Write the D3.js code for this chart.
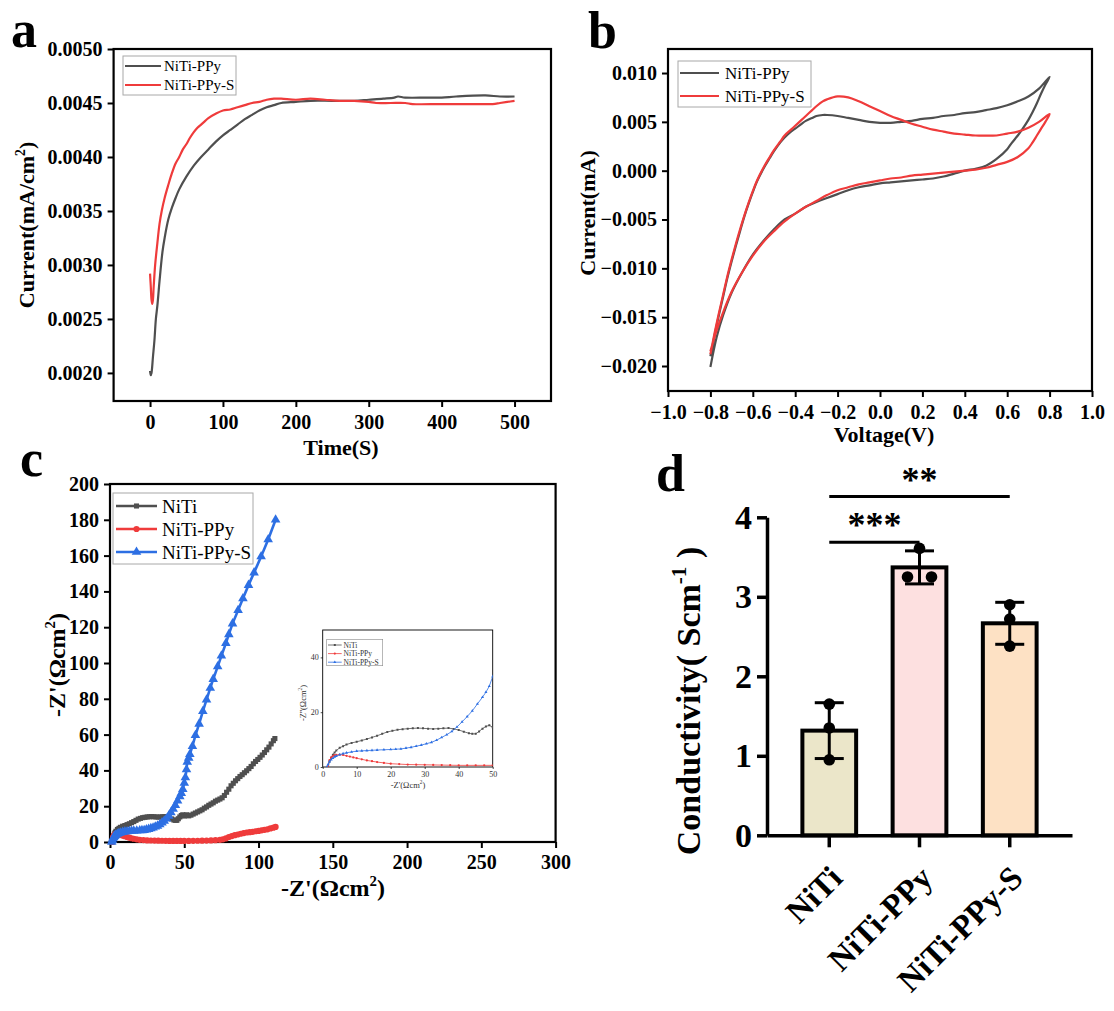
<!DOCTYPE html>
<html><head><meta charset="utf-8">
<script src="https://cdn.jsdelivr.net/npm/d3@7"></script>
<style>
body{margin:0;background:#fff;}
svg{display:block;}
</style></head><body>
<svg id="fig" width="1114" height="1011"></svg>
<script>
// ---------------- DATA ----------------
// Panel a: chronoamperometry
const timePPy = [0,1,2,4,6,8,10,13,17,20,25,30,35,40,50,60,70,80,90,100,110,120,130,140,150,160,170,180,200,220,250,280,300,320,335,340,350,380,400,420,460,480,500];
const curPPy  = [0.00202,0.00198,0.00200,0.00215,0.00230,0.00250,0.00262,0.00285,0.00312,0.00325,0.00342,0.00353,0.00362,0.00370,0.00382,0.00392,0.00400,0.00407,0.00414,0.00420,0.00425,0.00430,0.00435,0.00439,0.00443,0.00446,0.00448,0.00450,0.00451,0.00452,0.00452,0.00452,0.00453,0.00454,0.00455,0.00456,0.00455,0.00455,0.00455,0.00456,0.00457,0.00456,0.00456];
const timePPyS = [0,1,2,3,4,5,7,10,13,16,20,25,30,35,40,45,50,55,60,65,70,75,80,90,100,110,120,130,140,150,160,170,180,200,220,240,260,280,300,310,330,350,360,400,440,470,480,490,500];
const curPPyS  = [0.00292,0.00280,0.00268,0.00264,0.00268,0.00280,0.00300,0.00320,0.00338,0.00350,0.00362,0.00374,0.00385,0.00394,0.00400,0.00407,0.00412,0.00418,0.00423,0.00427,0.00430,0.00433,0.00436,0.00440,0.00443,0.00444,0.00446,0.00448,0.00450,0.00451,0.00453,0.00454,0.00454,0.00453,0.00454,0.00453,0.00452,0.00452,0.00451,0.00450,0.00450,0.00450,0.00449,0.00449,0.00449,0.00449,0.00450,0.00451,0.00452];
const seriesA = ["NiTi-PPy","NiTi-PPy-S"];
const xTicksA = [0,100,200,300,400,500];
const yTicksA = [0.0020,0.0025,0.0030,0.0035,0.0040,0.0045,0.0050];

// Panel b: cyclic voltammetry loops [V, mA]
const cvPPy = [[-0.8,-0.0190],[-0.78,-0.0168],[-0.76,-0.0148],[-0.74,-0.0129],[-0.72,-0.0110],[-0.70,-0.0093],[-0.68,-0.0077],[-0.66,-0.0062],[-0.64,-0.0047],[-0.62,-0.0034],[-0.60,-0.0022],[-0.58,-0.0011],[-0.55,0.0002],[-0.52,0.0013],[-0.50,0.0020],[-0.47,0.0029],[-0.45,0.0034],[-0.42,0.0040],[-0.40,0.0043],[-0.37,0.0048],[-0.35,0.0051],[-0.32,0.0054],[-0.30,0.0056],[-0.27,0.0057],[-0.25,0.0057],[-0.20,0.0056],[-0.15,0.0054],[-0.10,0.0052],[-0.05,0.0050],[0.0,0.0049],[0.05,0.0049],[0.10,0.0050],[0.15,0.0051],[0.20,0.0053],[0.25,0.0054],[0.30,0.0056],[0.35,0.0057],[0.40,0.0059],[0.45,0.0060],[0.50,0.0062],[0.55,0.0064],[0.60,0.0067],[0.65,0.0071],[0.70,0.0076],[0.75,0.0084],[0.80,0.0096],
  [0.78,0.0088],[0.76,0.0079],[0.74,0.0069],[0.72,0.0060],[0.70,0.0052],[0.67,0.0042],[0.65,0.0036],[0.62,0.0028],[0.60,0.0022],[0.55,0.0012],[0.50,0.0005],[0.45,0.0002],[0.40,0.0000],[0.35,-0.0003],[0.30,-0.0006],[0.25,-0.0008],[0.20,-0.0009],[0.15,-0.0010],[0.10,-0.0011],[0.05,-0.0012],[0.0,-0.0013],[-0.05,-0.0015],[-0.10,-0.0017],[-0.15,-0.0020],[-0.20,-0.0024],[-0.25,-0.0028],[-0.30,-0.0032],[-0.35,-0.0037],[-0.40,-0.0044],[-0.45,-0.0050],[-0.50,-0.0060],[-0.55,-0.0072],[-0.60,-0.0086],[-0.65,-0.0104],[-0.70,-0.0125],[-0.74,-0.0148],[-0.77,-0.0170],[-0.80,-0.0201]];
const cvPPyS = [[-0.8,-0.0188],[-0.78,-0.0166],[-0.76,-0.0146],[-0.74,-0.0127],[-0.72,-0.0108],[-0.70,-0.0091],[-0.68,-0.0075],[-0.66,-0.0060],[-0.64,-0.0046],[-0.62,-0.0033],[-0.60,-0.0021],[-0.58,-0.0010],[-0.55,0.0003],[-0.52,0.0014],[-0.50,0.0021],[-0.47,0.0030],[-0.45,0.0036],[-0.42,0.0042],[-0.40,0.0046],[-0.37,0.0052],[-0.35,0.0056],[-0.32,0.0062],[-0.30,0.0066],[-0.27,0.0071],[-0.25,0.0073],[-0.20,0.0076],[-0.15,0.0075],[-0.10,0.0071],[-0.05,0.0066],[0.0,0.0061],[0.05,0.0056],[0.10,0.0052],[0.15,0.0048],[0.20,0.0045],[0.25,0.0042],[0.30,0.0040],[0.35,0.0038],[0.40,0.0037],[0.45,0.0036],[0.50,0.0036],[0.55,0.0036],[0.60,0.0038],[0.65,0.0040],[0.70,0.0044],[0.75,0.0050],[0.80,0.0058],
  [0.78,0.0050],[0.76,0.0043],[0.74,0.0036],[0.72,0.0029],[0.70,0.0023],[0.65,0.0014],[0.60,0.0009],[0.55,0.0006],[0.50,0.0003],[0.45,0.0001],[0.40,0.0000],[0.35,-0.0001],[0.30,-0.0002],[0.25,-0.0003],[0.20,-0.0004],[0.15,-0.0005],[0.10,-0.0007],[0.05,-0.0008],[0.0,-0.0010],[-0.05,-0.0012],[-0.10,-0.0014],[-0.15,-0.0017],[-0.20,-0.0020],[-0.25,-0.0025],[-0.30,-0.0031],[-0.35,-0.0037],[-0.40,-0.0044],[-0.45,-0.0052],[-0.50,-0.0062],[-0.55,-0.0073],[-0.60,-0.0087],[-0.65,-0.0104],[-0.70,-0.0124],[-0.74,-0.0145],[-0.77,-0.0163],[-0.80,-0.0185]];
const seriesB = ["NiTi-PPy","NiTi-PPy-S"];
const xTicksB = [-1.0,-0.8,-0.6,-0.4,-0.2,0.0,0.2,0.4,0.6,0.8,1.0];
const yTicksB = [-0.020,-0.015,-0.010,-0.005,0.000,0.005,0.010];

// Panel c: Nyquist [Z', -Z'']
const eisNiTi = [[1.5,0],[2,2],[2.5,3.4],[3,4.5],[3.5,5.3],[4,6],[5,7],[6,7.6],[7,8.2],[8.5,8.8],[10,9.2],[11.5,9.7],[13,10.2],[14.5,10.8],[16,11.4],[17.5,12.1],[19,12.8],[20.5,13.2],[22,13.6],[23.5,13.8],[25,14],[26.5,14.1],[28,14.2],[29.5,14.1],[31,14],[32.5,13.9],[34,14],[35.5,14.1],[37,14.2],[38.5,13.9],[40,13.5],[41.5,12.9],[43,12.3],[44,12.1],[45,12.1],[46,13],[47,14],[48,14.8],[49,15.2],[50,14.5],[51.5,15.2],[53,14.6],[54.5,15],[56,15.6],[57.5,16.2],[59,16.8],[60.5,17.4],[62,18],[63.5,18.9],[65,19.6],[66.5,20.5],[68,21.2],[69.5,21.9],[71,22.8],[72.5,23.4],[74,24],[75.5,24.7],[77,26],[78.5,27.8],[80,29.5],[81.5,31.4],[83,32.8],[84.5,34.2],[86,35.4],[87.5,36.6],[89,37.6],[90.5,38.7],[92,39.8],[93.5,41],[95,42.2],[96.5,43.7],[98,45],[99.5,46.1],[101,47.3],[102.5,48.6],[104,50],[105.5,51.5],[107,53],[108.5,54.8],[110,56.6],[111,57.8]];
const eisPPy = [[1.5,0],[2,2.5],[2.5,3.5],[3,4],[3.5,4.3],[4,4.4],[5,4.5],[6,4.4],[7,4.1],[8,3.8],[9,3.5],[10,3.2],[11.5,2.8],[13,2.4],[14.5,2.1],[16,1.8],[18,1.5],[20,1.2],[22.5,1.05],[25,0.9],[27.5,0.85],[30,0.8],[32.5,0.75],[35,0.7],[37.5,0.65],[40,0.6],[42.5,0.6],[45,0.6],[47.5,0.6],[50,0.6],[53,0.6],[56,0.65],[59,0.7],[62,0.75],[65,0.8],[68,0.9],[71,1],[74,1.2],[76,1.5],[78,2],[80,2.8],[82,3.3],[84,3.8],[86,4.2],[88,4.6],[90,5],[92,5.3],[94,5.5],[96,5.7],[98,6],[100,6.2],[102,6.5],[104,6.8],[106,7.1],[108,7.6],[110,8],[111.5,8.4]];
const eisPPyS = [[1.2,0],[1.6,1],[2,2],[2.5,2.7],[3,3.2],[3.5,3.7],[4,4],[5,4.5],[6,4.9],[7,5.2],[8.5,5.5],[10,5.8],[11.5,5.9],[13,6],[14.5,6.1],[16,6.2],[18,6.3],[20,6.4],[21.5,6.5],[23,6.6],[24.5,6.9],[26,7.2],[27.5,7.6],[29,8],[30.5,8.5],[32,9],[33.5,9.8],[35,10.8],[36.5,11.8],[38,13],[39.5,14.6],[41,16.5],[42.5,18.4],[44,20.5],[45.5,23],[47,25.5],[48,27.3],[49,29.5],[50,33],[50.75,36],[51.5,40.5],[52,44.7],[53,47],[53.75,49],[55.5,53.5],[57.5,59.6],[60,66],[62.5,73],[65,79.5],[67.5,86],[69.5,91],[72.5,98],[75,104],[78,111],[80,116],[82.5,122],[86.25,129.5],[89.5,136],[93.25,143.5],[97,150.5],[101.75,159.5],[106.5,169],[111.5,180]];
const seriesC = ["NiTi","NiTi-PPy","NiTi-PPy-S"];
const xTicksC = [0,50,100,150,200,250,300];
const yTicksC = [0,20,40,60,80,100,120,140,160,180,200];
const xTicksInset = [0,10,20,30,40,50];
const yTicksInset = [0,20,40];

// Panel d: conductivity replicates (S/cm)
const groupsD = ["NiTi","NiTi-PPy","NiTi-PPy-S"];
const repNiTi = [1.65,1.35,0.95];
const repPPy  = [3.61,3.25,3.25];
const repPPyS = [2.90,2.72,2.38];
const yTicksD = [0,1,2,3,4];
const sigLabels = ["***","**"];

// ---------------- DRAWING ----------------
const FONT = '"Liberation Serif","Times New Roman",serif';
const svg = d3.select("#fig").attr("font-family", FONT);
const GRAY = "#4f4f4f", RED = "#ef3b3b", BLUE = "#2d6fe3";

function rich(sel, parts, fs) {
  parts.forEach((p, i) => {
    const t = sel.append("tspan").text(p.t);
    if (p.sup) t.attr("font-size", fs * 0.62).attr("dy", -fs * 0.42);
    else if (i > 0 && parts[i-1].sup) t.attr("dy", fs * 0.42);
  });
}

function framed(g, x, y, o) {
  const ya = g.append("g").attr("transform", `translate(${x.range()[0]},0)`)
    .call(d3.axisLeft(y).tickValues(o.yTicks).tickFormat(o.yFmt).tickSize(o.tick).tickSizeOuter(0).tickPadding(o.padY));
  const xa = g.append("g").attr("transform", `translate(0,${y.range()[0]})`)
    .call(d3.axisBottom(x).tickValues(o.xTicks).tickFormat(o.xFmt).tickSize(o.tick).tickSizeOuter(0).tickPadding(o.padX));
  [ya, xa].forEach(a => {
    a.select(".domain").remove();
    a.attr("font-family", FONT).attr("font-size", o.fs);
    a.selectAll("line").attr("stroke", "#000").attr("stroke-width", o.sw);
    a.selectAll("text").attr("font-weight", o.fw).attr("fill", "#000");
  });
  g.append("rect").attr("x", x.range()[0]).attr("y", y.range()[1])
    .attr("width", x.range()[1] - x.range()[0]).attr("height", y.range()[0] - y.range()[1])
    .attr("fill", "none").attr("stroke", "#000").attr("stroke-width", o.frame);
}

function panelLabel(t, x, y) {
  svg.append("text").attr("x", x).attr("y", y).attr("font-size", 52).attr("font-weight", "bold").text(t);
}

// ---- Panel a ----
{
  const g = svg.append("g");
  const x = d3.scaleLinear().domain([-50, 550]).range([113.6, 551]);
  const y = d3.scaleLinear().domain([0.00174, 0.0050]).range([401, 49]);
  framed(g, x, y, {xTicks: xTicksA, yTicks: yTicksA, xFmt: d3.format("d"), yFmt: d3.format(".4f"),
    tick: 6, padX: 8, padY: 5, fs: 20, fw: "bold", sw: 2, frame: 2.2});
  const line = d3.line().x(d => x(d[0])).y(d => y(d[1])).curve(d3.curveCatmullRom);
  const dataA = [d3.zip(timePPy, curPPy), d3.zip(timePPyS, curPPyS)];
  const colA = [GRAY, RED];
  dataA.forEach((d, i) => g.append("path").datum(d).attr("d", line).attr("fill", "none")
    .attr("stroke", colA[i]).attr("stroke-width", 2.2));
  g.append("rect").attr("x", 123).attr("y", 56).attr("width", 113).attr("height", 39)
    .attr("fill", "#fff").attr("stroke", "#a8a8a8").attr("stroke-width", 1);
  seriesA.forEach((s, i) => {
    const yy = 66 + i * 19;
    g.append("line").attr("x1", 125).attr("x2", 161).attr("y1", yy).attr("y2", yy).attr("stroke", colA[i]).attr("stroke-width", 2.2);
    g.append("text").attr("x", 164).attr("y", yy + 5).attr("font-size", 15).text(s);
  });
  g.append("text").attr("x", 341).attr("y", 455).attr("text-anchor", "middle").attr("font-size", 22).attr("font-weight", "bold").text("Time(S)");
  const yt = g.append("text").attr("transform", "translate(34,225) rotate(-90)").attr("text-anchor", "middle")
    .attr("font-size", 22).attr("font-weight", "bold");
  rich(yt, [{t: "Current(mA/cm"}, {t: "2", sup: true}, {t: ")"}], 22);
  panelLabel("a", 11, 47);
}

// ---- Panel b ----
{
  const g = svg.append("g");
  const x = d3.scaleLinear().domain([-1, 1]).range([668, 1092]);
  const y = d3.scaleLinear().domain([-0.02256, 0.01246]).range([391, 49]);
  framed(g, x, y, {xTicks: xTicksB, yTicks: yTicksB, xFmt: d3.format(".1f"), yFmt: d3.format(".3f"),
    tick: 6, padX: 8, padY: 5, fs: 20, fw: "bold", sw: 2, frame: 2.2});
  const line = d3.line().x(d => x(d[0])).y(d => y(d[1])).curve(d3.curveCatmullRom);
  const colB = [GRAY, RED];
  [cvPPy, cvPPyS].forEach((d, i) => g.append("path").datum(d).attr("d", line).attr("fill", "none")
    .attr("stroke", colB[i]).attr("stroke-width", 2.2));
  g.append("rect").attr("x", 678).attr("y", 61).attr("width", 133).attr("height", 46)
    .attr("fill", "#fff").attr("stroke", "#a8a8a8").attr("stroke-width", 1);
  seriesB.forEach((s, i) => {
    const yy = 73 + i * 23;
    g.append("line").attr("x1", 680).attr("x2", 719).attr("y1", yy).attr("y2", yy).attr("stroke", colB[i]).attr("stroke-width", 2.2);
    g.append("text").attr("x", 725).attr("y", yy + 6).attr("font-size", 17).text(s);
  });
  g.append("text").attr("x", 884).attr("y", 442).attr("text-anchor", "middle").attr("font-size", 22).attr("font-weight", "bold").text("Voltage(V)");
  g.append("text").attr("transform", "translate(595,213) rotate(-90)").attr("text-anchor", "middle")
    .attr("font-size", 22).attr("font-weight", "bold").text("Current(mA)");
  panelLabel("b", 588, 48);
}

// ---- Panel c ----
{
  const g = svg.append("g");
  const x = d3.scaleLinear().domain([0, 300]).range([110, 555.6]);
  const y = d3.scaleLinear().domain([0, 200]).range([842, 484]);
  framed(g, x, y, {xTicks: xTicksC, yTicks: yTicksC, xFmt: d3.format("d"), yFmt: d3.format("d"),
    tick: 6, padX: 7, padY: 5, fs: 20, fw: "bold", sw: 2, frame: 2.2});
  const colC = [GRAY, RED, BLUE];
  const symC = [d3.symbolSquare, d3.symbolCircle, d3.symbolTriangle];
  const symSize = [26, 30, 40];
  const dataC = [eisNiTi, eisPPy, eisPPyS];
  const line = d3.line().x(d => x(d[0])).y(d => y(d[1]));
  dataC.forEach((d, i) => {
    g.append("path").datum(d).attr("d", line).attr("fill", "none").attr("stroke", colC[i]).attr("stroke-width", 2.6);
    g.selectAll(null).data(d).join("path")
      .attr("transform", p => `translate(${x(p[0])},${y(p[1])})`)
      .attr("d", d3.symbol(symC[i], symSize[i])).attr("fill", colC[i]);
  });
  // legend
  g.append("rect").attr("x", 113).attr("y", 493).attr("width", 140).attr("height", 71)
    .attr("fill", "#fff").attr("stroke", "#a8a8a8").attr("stroke-width", 1);
  seriesC.forEach((s, i) => {
    const yy = 506 + i * 23;
    g.append("line").attr("x1", 116).attr("x2", 157).attr("y1", yy).attr("y2", yy).attr("stroke", colC[i]).attr("stroke-width", 2.6);
    g.append("path").attr("transform", `translate(136.5,${yy})`).attr("d", d3.symbol(symC[i], symSize[i])).attr("fill", colC[i]);
    g.append("text").attr("x", 162).attr("y", yy + 6.5).attr("font-size", 19).text(s);
  });
  const xt = g.append("text").attr("x", 333).attr("y", 896).attr("text-anchor", "middle").attr("font-size", 24).attr("font-weight", "bold");
  rich(xt, [{t: "-Z'(Ωcm"}, {t: "2", sup: true}, {t: ")"}], 24);
  const yt = g.append("text").attr("transform", "translate(65,665) rotate(-90)").attr("text-anchor", "middle").attr("font-size", 24).attr("font-weight", "bold");
  rich(yt, [{t: "-Z'(Ωcm"}, {t: "2", sup: true}, {t: ")"}], 24);
  panelLabel("c", 20, 476);

  // inset
  const xi = d3.scaleLinear().domain([0, 50]).range([322.7, 492.7]);
  const yi = d3.scaleLinear().domain([0, 50]).range([767, 630]);
  const gi = svg.append("g");
  gi.append("rect").attr("x", 322.7).attr("y", 630).attr("width", 170).attr("height", 137).attr("fill", "#fff");
  framed(gi, xi, yi, {xTicks: xTicksInset, yTicks: yTicksInset, xFmt: d3.format("d"), yFmt: d3.format("d"),
    tick: 2, padX: 2, padY: 2, fs: 8, fw: "normal", sw: 0.7, frame: 0.9});
  gi.selectAll(".tick text").attr("fill", "#333");
  gi.append("clipPath").attr("id", "insetClip").append("rect").attr("x", 322.7).attr("y", 630).attr("width", 170).attr("height", 137);
  const gc = gi.append("g").attr("clip-path", "url(#insetClip)");
  const lineI = d3.line().x(d => xi(d[0])).y(d => yi(d[1]));
  dataC.forEach((d, i) => {
    const dd = d.filter(p => p[0] <= 51);
    gc.append("path").datum(dd).attr("d", lineI).attr("fill", "none").attr("stroke", colC[i]).attr("stroke-width", 0.8);
    gc.selectAll(null).data(dd).join("path")
      .attr("transform", p => `translate(${xi(p[0])},${yi(p[1])})`)
      .attr("d", d3.symbol(symC[i], 4)).attr("fill", colC[i]);
  });
  gi.append("rect").attr("x", 326.7).attr("y", 639.3).attr("width", 56).attr("height", 26.4)
    .attr("fill", "#fff").attr("stroke", "#888").attr("stroke-width", 0.6);
  seriesC.forEach((s, i) => {
    const yy = 645 + i * 8.6;
    gi.append("line").attr("x1", 328).attr("x2", 341.7).attr("y1", yy).attr("y2", yy).attr("stroke", colC[i]).attr("stroke-width", 0.8);
    gi.append("path").attr("transform", `translate(334.8,${yy})`).attr("d", d3.symbol(symC[i], 4)).attr("fill", colC[i]);
    gi.append("text").attr("x", 343.5).attr("y", yy + 2.6).attr("font-size", 7.5).attr("fill", "#333").text(s);
  });
  const xti = gi.append("text").attr("x", 408).attr("y", 788).attr("text-anchor", "middle").attr("font-size", 8.5).attr("fill", "#333");
  rich(xti, [{t: "-Z'(Ωcm"}, {t: "2", sup: true}, {t: ")"}], 8.5);
  const yti = gi.append("text").attr("transform", "translate(306,703) rotate(-90)").attr("text-anchor", "middle").attr("font-size", 8.5).attr("fill", "#333");
  rich(yti, [{t: "-Z''(Ωcm"}, {t: "2", sup: true}, {t: ")"}], 8.5);
}

// ---- Panel d ----
{
  const g = svg.append("g");
  const reps = [repNiTi, repPPy, repPPyS];
  const fills = ["#ebe6c9", "#fde0e0", "#fde1c4"];
  const x = d3.scaleBand().domain(groupsD).range([767, 1072]).paddingInner(0.36).paddingOuter(0.37);
  const y = d3.scaleLinear().domain([0, 4]).range([835.3, 517.3]);
  const bw = x.bandwidth();
  const means = reps.map(r => d3.mean(r));
  const sds = reps.map(r => d3.deviation(r));
  groupsD.forEach((c, i) => {
    g.append("rect").attr("x", x(c) + 2).attr("width", bw - 4)
      .attr("y", y(means[i])).attr("height", y(0) - y(means[i]))
      .attr("fill", fills[i]).attr("stroke", "#000").attr("stroke-width", 4);
  });
  const ya = g.append("g").attr("transform", "translate(767,0)")
    .call(d3.axisLeft(y).tickValues(yTicksD).tickFormat(d3.format("d")).tickSize(10).tickSizeOuter(0).tickPadding(5));
  const xa = g.append("g").attr("transform", `translate(0,${y(0)})`)
    .call(d3.axisBottom(x).tickSize(12).tickSizeOuter(0).tickFormat(""));
  [ya, xa].forEach(a => {
    a.attr("font-family", FONT);
    a.select(".domain").attr("stroke", "#000").attr("stroke-width", 3.5);
    a.selectAll("line").attr("stroke", "#000").attr("stroke-width", 3.5);
  });
  ya.selectAll("text").attr("font-size", 34).attr("font-weight", "bold").attr("fill", "#000");
  groupsD.forEach(c => {
    const cx = x(c) + bw / 2;
    g.append("text").attr("transform", `translate(${cx + 15},${880}) rotate(-45)`)
      .attr("text-anchor", "end").attr("font-size", 33).attr("font-weight", "bold").text(c);
  });
  groupsD.forEach((c, i) => {
    const cx = x(c) + bw / 2;
    const lo = means[i] - sds[i], hi = means[i] + sds[i];
    g.append("line").attr("x1", cx).attr("x2", cx).attr("y1", y(lo)).attr("y2", y(hi)).attr("stroke", "#000").attr("stroke-width", 3);
    [lo, hi].forEach(v => g.append("line").attr("x1", cx - 14.5).attr("x2", cx + 14.5).attr("y1", y(v)).attr("y2", y(v))
      .attr("stroke", "#000").attr("stroke-width", 3));
    const r = reps[i];
    r.forEach((v, j) => {
      const dup = r.filter(w => Math.abs(w - v) < 0.05);
      let off = 0;
      if (dup.length > 1) { const k = r.slice(0, j).filter(w => Math.abs(w - v) < 0.05).length; off = k === 0 ? -12 : 12; }
      g.append("circle").attr("cx", cx + off).attr("cy", y(v)).attr("r", 5.8).attr("fill", "#000");
    });
  });
  const c0 = x(groupsD[0]) + bw / 2, c1 = x(groupsD[1]) + bw / 2, c2 = x(groupsD[2]) + bw / 2;
  g.append("line").attr("x1", c0).attr("x2", c1).attr("y1", 542.3).attr("y2", 542.3).attr("stroke", "#000").attr("stroke-width", 3);
  g.append("text").attr("x", (c0 + c1) / 2).attr("y", 537).attr("text-anchor", "middle").attr("font-size", 36).attr("font-weight", "bold").text(sigLabels[0]);
  g.append("line").attr("x1", c0).attr("x2", c2).attr("y1", 496.5).attr("y2", 496.5).attr("stroke", "#000").attr("stroke-width", 3);
  g.append("text").attr("x", c1).attr("y", 492).attr("text-anchor", "middle").attr("font-size", 36).attr("font-weight", "bold").text(sigLabels[1]);
  const yt = g.append("text").attr("transform", "translate(700,701) rotate(-90)").attr("text-anchor", "middle")
    .attr("font-size", 34).attr("font-weight", "bold");
  rich(yt, [{t: "Conductivity( Scm"}, {t: "-1", sup: true}, {t: " )"}], 34);
  panelLabel("d", 656, 491);
}
</script></body></html>
